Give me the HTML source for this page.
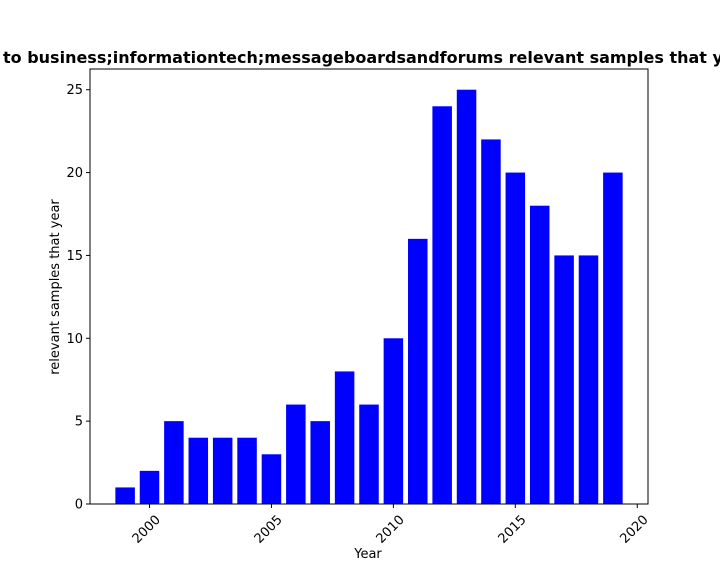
<!DOCTYPE html>
<html><head><meta charset="utf-8"><style>
body{margin:0;background:#fff;}
svg{display:block;font-family:"DejaVu Sans","Liberation Sans",sans-serif;}
</style></head><body>
<svg id="chart" width="720" height="576">
<text x="3" y="63" font-size="16" font-weight="bold">to business;informationtech;messageboardsandforums relevant samples that year</text>
<g id="bars"></g>
<rect x="90" y="69" width="558" height="435" fill="none" stroke="#000" stroke-width="1"/>
<g id="axes"></g>
<text x="368" y="558" font-size="13" text-anchor="middle">Year</text>
<text transform="translate(59,287) rotate(-90)" font-size="13" text-anchor="middle">relevant samples that year</text>
</svg>
<script>
const years=[1999,2000,2001,2002,2003,2004,2005,2006,2007,2008,2009,2010,2011,2012,2013,2014,2015,2016,2017,2018,2019];
const counts=[1,2,5,4,4,4,3,6,5,8,6,10,16,24,25,22,20,18,15,15,20];
const xTicks=[2000,2005,2010,2015,2020];
const yTicks=[0,5,10,15,20,25];
const L=90,R=648,T=69,B=504;
const xmin=Math.min(...years)-0.4, xmax=Math.max(...years)+0.4, xm=(xmax-xmin)*0.05;
const x0=xmin-xm,x1=xmax+xm;
const ymax=Math.max(...counts)*1.05;
const sx=v=>L+(v-x0)/(x1-x0)*(R-L);
const sy=v=>B-v/ymax*(B-T);
const NS="http://www.w3.org/2000/svg";
const bars=document.getElementById('bars'),axes=document.getElementById('axes');
years.forEach((yr,i)=>{
 const r=document.createElementNS(NS,'rect');
 r.setAttribute('x',sx(yr-0.4));r.setAttribute('width',sx(yr+0.4)-sx(yr-0.4));
 r.setAttribute('y',sy(counts[i]));r.setAttribute('height',B-sy(counts[i]));
 r.setAttribute('fill','#0000ff');
 
 
 bars.appendChild(r);
});
xTicks.forEach(t=>{
 const x=sx(t);
 const l=document.createElementNS(NS,'line');
 l.setAttribute('x1',x);l.setAttribute('x2',x);l.setAttribute('y1',B);l.setAttribute('y2',B+4);l.setAttribute('stroke','#000');
 
 
 axes.appendChild(l);
 const tx=document.createElementNS(NS,'text');
 tx.setAttribute('transform',`translate(${x+5},${B+10}) rotate(-45)`);
 tx.setAttribute('text-anchor','end');tx.setAttribute('font-size','13');tx.setAttribute('dy','0.7em');
 tx.textContent=t;
 
 
 axes.appendChild(tx);
});
yTicks.forEach(t=>{
 const y=sy(t);
 const l=document.createElementNS(NS,'line');
 l.setAttribute('x1',L-4);l.setAttribute('x2',L);l.setAttribute('y1',y);l.setAttribute('y2',y);l.setAttribute('stroke','#000');
 
 
 axes.appendChild(l);
 const tx=document.createElementNS(NS,'text');
 tx.setAttribute('x',L-7);tx.setAttribute('y',y+4.5);tx.setAttribute('text-anchor','end');tx.setAttribute('font-size','13');
 tx.textContent=t;
 
 
 axes.appendChild(tx);
});
</script>
</body></html>
